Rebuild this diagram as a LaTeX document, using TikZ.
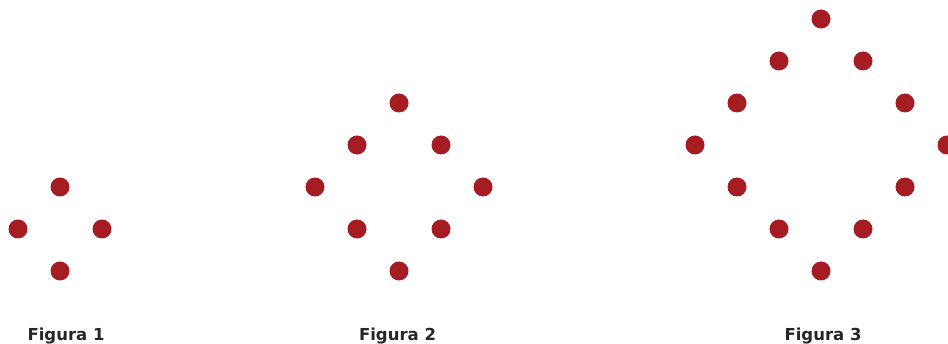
\documentclass[tikz,border=0pt]{standalone}
\usepackage{fontspec}
\setmainfont{DejaVu Sans}
\usepackage{tikz}
\definecolor{dotred}{HTML}{A51C22}

\begin{document}
\begin{tikzpicture}[x=1pt, y=-1pt, dot/.style={circle, fill=dotred, inner sep=0pt, minimum size=19pt},
    caption/.style={font=\fontsize{16.5}{20}\selectfont\bfseries, text=black!85, anchor=base, inner sep=0pt}]
  \useasboundingbox (0,0) rectangle (948,344);
  % Figura 1
  \node[dot] (a1) at (60,187) {};
  \node[dot] (a2) at (18,229) {};
  \node[dot] (a3) at (102,229) {};
  \node[dot] (a4) at (60,271) {};
  \node[caption] (capa) at (66,341) {Figura 1};
  % Figura 2
  \node[dot] (b1) at (399,103) {};
  \node[dot] (b2) at (357,145) {};
  \node[dot] (b3) at (441,145) {};
  \node[dot] (b4) at (315,187) {};
  \node[dot] (b5) at (483,187) {};
  \node[dot] (b6) at (357,229) {};
  \node[dot] (b7) at (441,229) {};
  \node[dot] (b8) at (399,271) {};
  \node[caption] (capb) at (397.5,341) {Figura 2};
  % Figura 3
  \node[dot] (c1) at (821,19) {};
  \node[dot] (c2) at (779,61) {};
  \node[dot] (c3) at (863,61) {};
  \node[dot] (c4) at (737,103) {};
  \node[dot] (c5) at (905,103) {};
  \node[dot] (c6) at (695,145) {};
  \node[dot] (c7) at (947,145) {};
  \node[dot] (c8) at (737,187) {};
  \node[dot] (c9) at (905,187) {};
  \node[dot] (c10) at (779,229) {};
  \node[dot] (c11) at (863,229) {};
  \node[dot] (c12) at (821,271) {};
  \node[caption] (capc) at (823,341) {Figura 3};
\end{tikzpicture}
\end{document}
